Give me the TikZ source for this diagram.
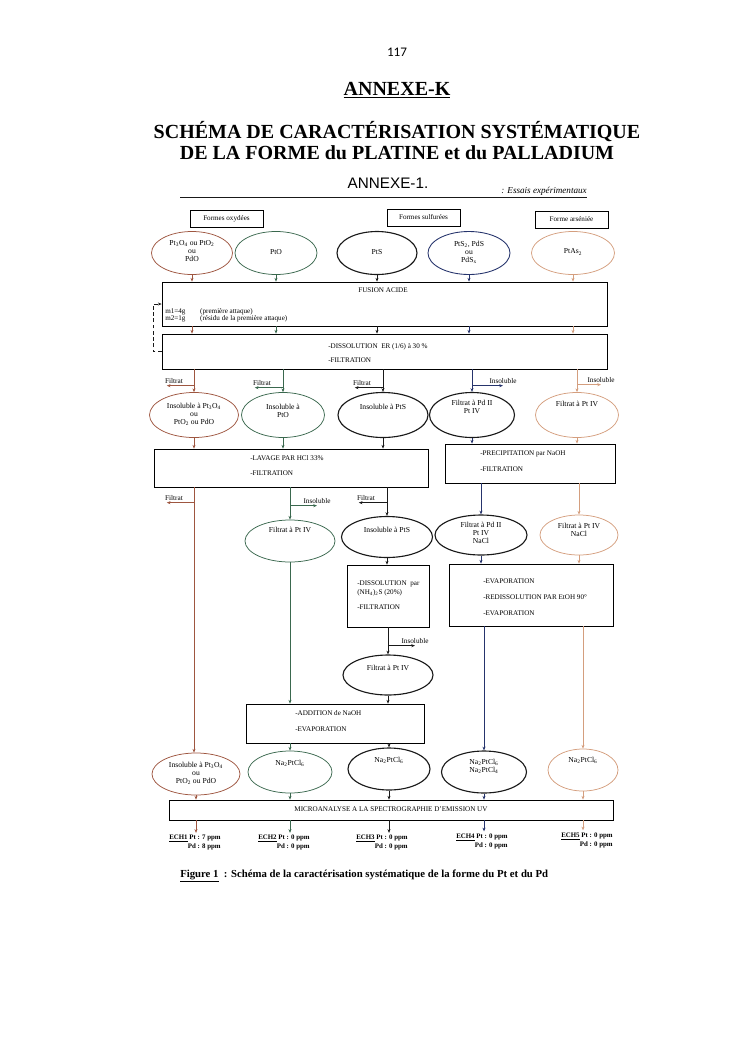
\documentclass[tikz,border=0pt]{standalone}
\usepackage{fontspec}
\setmainfont{Liberation Serif}
\newfontfamily\calibrifont{Carlito}
\newfontfamily\mainlevee{Liberation Sans}
\usetikzlibrary{arrows.meta,shapes.geometric,positioning}
\definecolor{brun}{RGB}{158,86,64}
\definecolor{vert}{RGB}{58,104,78}
\definecolor{noir}{RGB}{25,25,25}
\definecolor{bleu}{RGB}{38,52,108}
\definecolor{fauve}{RGB}{212,158,126}
\newcommand{\indice}[1]{\textsubscript{#1}}
\tikzset{
  ovale/.style 2 args={draw,ellipse,inner sep=0pt,minimum width=#1*0.8pt,minimum height=#2*0.8pt},
  cadre/.style 2 args={draw,rectangle,inner sep=0pt,line width=0.6pt,minimum width=#1*0.8pt,minimum height=#2*0.8pt},
  txt/.style={font=\fontsize{5.7}{6.4}\selectfont,inner sep=0pt,align=center},
  etxt/.style={font=\fontsize{6.1}{6.4}\selectfont,inner sep=0pt,align=center},
  lab/.style={font=\fontsize{5.8}{6}\selectfont,inner sep=1.5pt},
  ech/.style={font=\bfseries\fontsize{5.5}{7.2}\selectfont,align=right,inner sep=1.5pt},
  fl/.style={-{Stealth[length=3pt,width=2.4pt]},line width=0.6pt},
}
\begin{document}
\begin{tikzpicture}[x=0.8pt,y=-0.8pt]
\useasboundingbox (0,0) rectangle (745,1053);
% en-tete de page
\node[font=\calibrifont\fontsize{10.5}{12}\selectfont] (page) at (397,52) {117};
\node[font=\bfseries\fontsize{16}{18}\selectfont] (annexek) at (397,90) {\underline{ANNEXE-K}};
\node[font=\bfseries\fontsize{16}{16.8}\selectfont,align=center] (titre) at (397,141) {SCHÉMA DE CARACTÉRISATION SYSTÉMATIQUE\\DE LA FORME du PLATINE et du PALLADIUM};
% page scannee
\node[font=\mainlevee\fontsize{12.2}{13}\selectfont] (annexe1) at (388,183) {ANNEXE-1.};
\node[font=\itshape\fontsize{7.3}{8}\selectfont,anchor=east,inner sep=0pt] (essais) at (587,191) {: Essais expérimentaux};
\coordinate (trg) at (180,197); \coordinate (trd) at (587,197);
\draw[line width=0.8pt,noir] (trg)--(trd);
\node[cadre={73}{17},txt] (oxy) at (226.5,218.5) {Formes oxydées};
\node[cadre={73}{17},txt] (sulf) at (423.5,217.5) {Formes sulfurées};
\node[cadre={73}{17},txt] (ars) at (571.5,219.5) {Forme arséniée};
% ellipses
\foreach \nm/\cl/\lw/\cx/\cy/\w/\h/\ty/\tx in {
  e11/brun/0.6/192/253/81/43/251/{Pt\indice{3}O\indice{4} ou PtO\indice{2}\\ou\\PdO},
  e12/vert/0.6/276/253/82/43/252/{PtO},
  e13/noir/0.9/377/253/80/43/252/{PtS},
  e14/bleu/0.7/469/253/82/43/252/{PtS\indice{2}, PdS\\ou\\PdS\indice{x}},
  e15/fauve/0.6/573/253/83/43/252/{PtAs\indice{2}},
  e21/brun/0.6/194/415/89/45/414/{Insoluble à Pt\indice{3}O\indice{4}\\ou\\PtO\indice{2} ou PdO},
  e22/vert/0.6/283/415/83/45/411/{Insoluble à\\PtO},
  e23/noir/0.9/383/415/90/45/407/{Insoluble à PtS},
  e24/noir/0.9/472/415/85/45/407/{Filtrat à Pd II\\Pt IV},
  e25/fauve/0.6/577/415/83/45/404/{Filtrat à Pt IV},
  e32/vert/0.6/290/541/90/42/530/{Filtrat à Pt IV},
  e33/noir/0.9/387/537/91/41/530/{Insoluble à PtS},
  e34/noir/0.9/481/535/92/40/533/{Filtrat à Pd II\\Pt IV\\NaCl},
  e35/fauve/0.6/579/535/78/40/530/{Filtrat à Pt IV\\NaCl},
  e4/noir/0.9/388/675/90/40/668/{Filtrat à Pt IV},
  e51/brun/0.6/196/774/88/42/773/{Insoluble à Pt\indice{3}O\indice{4}\\ou\\PtO\indice{2} ou PdO},
  e52/vert/0.6/290/772/84/42/763/{Na\indice{2}PtCl\indice{6}},
  e53/noir/0.9/389/769/82/42/760/{Na\indice{2}PtCl\indice{6}},
  e54/noir/0.9/484/772/85/42/766/{Na\indice{2}PtCl\indice{6}\\Na\indice{2}PtCl\indice{4}},
  e55/fauve/0.6/583/770/70/42/760/{Na\indice{2}PtCl\indice{6}}}{
  \node[ovale={\w}{\h},draw=\cl,line width=\lw pt] (\nm) at (\cx,\cy) {};
  \node[etxt] (\nm-t) at (\cx,\ty) {\tx};
}
% cadres
\node[cadre={445}{44}] (fusion) at (384.5,304) {};
\node[cadre={445}{35}] (diss) at (384.5,351.5) {};
\node[cadre={274}{38}] (lavage) at (291,468) {};
\node[cadre={170}{39}] (precip) at (530,463.5) {};
\node[cadre={82}{62}] (dissnh) at (388,596) {};
\node[cadre={164}{62}] (evap) at (531,595) {};
\node[cadre={178}{39}] (addition) at (335,723.5) {};
\node[cadre={444}{20}] (micro) at (391,810) {};
\node[txt] (fusion-t) at (383,290) {FUSION ACIDE};
\node[txt,anchor=west,align=left] (masses) at (165,315.5) {\makebox[28pt][l]{m1=4g}(première attaque)\\[-0.8pt]\makebox[28pt][l]{m2=1g}(résidu de la première attaque)};
\node[txt,anchor=west,align=left] (diss-t) at (328,353) {-DISSOLUTION\ \ ER (1/6) à 30 \%\\[4.8pt]-FILTRATION};
\node[txt,anchor=west,align=left] (lavage-t) at (250,465.5) {-LAVAGE PAR HCl 33\%\\[5.6pt]-FILTRATION};
\node[txt,anchor=west,align=left] (precip-t) at (480,461) {-PRECIPITATION par NaOH\\[6.4pt]-FILTRATION};
\node[txt,anchor=west,align=left] (dissnh-t) at (357,595) {-DISSOLUTION\ \ par\\[0.8pt](NH\indice{4})\indice{2}S (20\%)\\[5.6pt]-FILTRATION};
\node[txt,anchor=west,align=left] (evap-t) at (483,597) {-EVAPORATION\\[6.4pt]-REDISSOLUTION PAR EtOH 90°\\[6.4pt]-EVAPORATION};
\node[txt,anchor=west,align=left] (addition-t) at (295,721) {-ADDITION de NaOH\\[6.4pt]-EVAPORATION};
\node[txt] (micro-t) at (391,809.5) {MICROANALYSE A LA SPECTROGRAPHIE D’EMISSION UV};
% etiquettes des branches
\node[lab] (f21) at (174,381) {Filtrat};
\node[lab] (f22) at (262,383) {Filtrat};
\node[lab] (f23) at (362,383) {Filtrat};
\node[lab] (i24) at (503,381) {Insoluble};
\node[lab] (i25) at (601,380) {Insoluble};
\node[lab] (f31) at (174,498) {Filtrat};
\node[lab] (i32) at (317,501) {Insoluble};
\node[lab] (f33) at (366,498) {Filtrat};
\node[lab] (i4) at (415,641) {Insoluble};
% resultats
\node[ech] (ech1) at (195,842.5) {\underline{ECH1} Pt : 7 ppm\\Pd : 8 ppm};
\node[ech] (ech2) at (284,842.5) {\underline{ECH2} Pt : 0 ppm\\Pd : 0 ppm};
\node[ech] (ech3) at (382,842.5) {\underline{ECH3} Pt : 0 ppm\\Pd : 0 ppm};
\node[ech] (ech4) at (482,841) {\underline{ECH4} Pt : 0 ppm\\Pd : 0 ppm};
\node[ech] (ech5) at (587,840) {\underline{ECH5} Pt : 0 ppm\\Pd : 0 ppm};
% fleches
\foreach \a/\b/\cl in {e11/e21/brun,e12/e22/vert,e13/e23/noir,e14/e24/bleu,e15/e25/fauve}{
  \draw[fl,\cl] (\a) -- (fusion.north -| \a);
  \draw[fl,\cl] (fusion.south -| \a) -- (diss.north -| \a);
  \draw[fl,\cl] (diss.south -| \b) -- (\b);
}
\draw[fl,densely dashed,noir] (diss.west) -- ++(-8,0) |- (fusion.west);
\draw[fl,brun] (e21 |- f21.south) -- ([xshift=3pt]f21.south west);
\draw[fl,vert] (e22 |- f22.south) -- ([xshift=3pt]f22.south west);
\draw[fl,noir] (e23 |- f23.south) -- ([xshift=3pt]f23.south west);
\draw[fl,bleu] (e24 |- i24.south) -- (i24.south);
\draw[fl,fauve] (e25 |- i25.south) -- (i25.south);
\foreach \a/\cl in {e21/brun,e22/vert,e23/noir}{\draw[fl,\cl] (\a) -- (lavage.north -| \a);}
\foreach \a/\cl in {e24/bleu,e25/fauve}{\draw[fl,\cl] (\a) -- (precip.north -| \a);}
\draw[fl,brun] (lavage.south -| e21) -- (e51.north -| e21);
\draw[fl,brun] (e21 |- f31.south) -- ([xshift=3pt]f31.south west);
\draw[fl,vert] (lavage.south -| e32) -- (e32);
\draw[fl,vert] (e32 |- i32.south) -- (i32.south);
\draw[fl,noir] (lavage.south -| e33) -- (e33);
\draw[fl,noir] (e33 |- f33.south) -- ([xshift=3pt]f33.south west);
\draw[fl,bleu] (precip.south -| e34) -- (e34);
\draw[fl,fauve] (precip.south -| e35) -- (e35);
\draw[fl,noir] (e33) -- (dissnh.north -| e33);
\draw[fl,noir] (dissnh.south -| e4) -- (e4);
\draw[fl,noir] (e4 |- i4.south) -- (i4.south);
\draw[fl,noir] (e4) -- (addition.north -| e4);
\draw[fl,vert] (e32) -- (addition.north -| e32);
\draw[fl,bleu] (e34) -- (evap.north -| e34);
\draw[fl,fauve] (e35) -- (evap.north -| e35);
\draw[fl,bleu] (evap.south -| e54) -- (e54);
\draw[fl,fauve] (evap.south -| e55) -- (e55);
\draw[fl,vert] (addition.south -| e52) -- (e52);
\draw[fl,noir] (addition.south -| e53) -- (e53);
\foreach \a/\e/\cl in {e51/ech1/brun,e52/ech2/vert,e53/ech3/noir,e54/ech4/bleu,e55/ech5/fauve}{
  \draw[fl,\cl] (\a) -- (micro.north -| \a);
  \draw[fl,\cl] (micro.south -| \a) -- (\e.north -| \a);
}
% legende
\node[font=\bfseries\fontsize{8.6}{9}\selectfont,anchor=west,inner sep=0pt] (legende) at (180,876) {\underline{Figure 1}\ \ : Schéma de la caractérisation systématique de la forme du Pt et du Pd};
\end{tikzpicture}
\end{document}
